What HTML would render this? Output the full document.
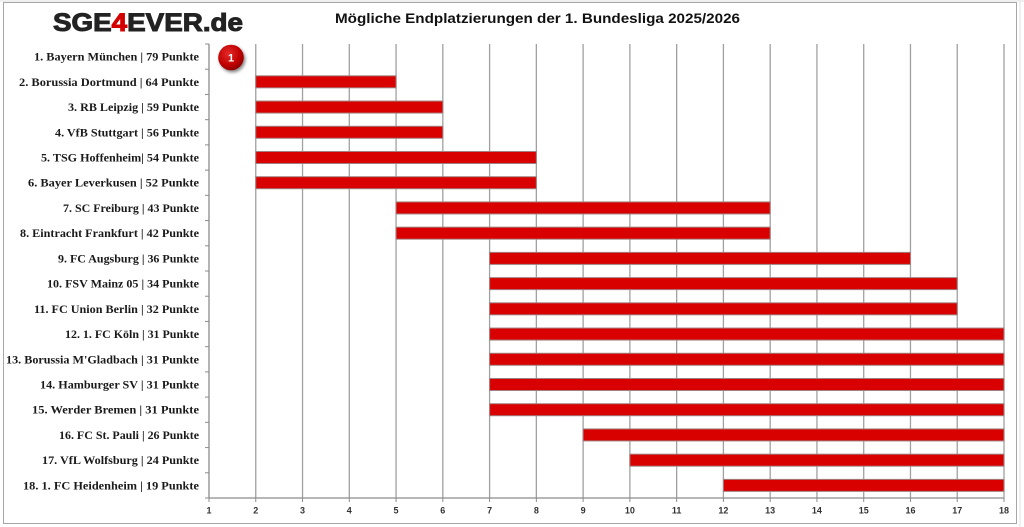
<!DOCTYPE html>
<html><head><meta charset="utf-8"><style>
html,body{margin:0;padding:0;background:#fff;width:1024px;height:527px;overflow:hidden}
svg{display:block}
.lb{font-family:"Liberation Serif",serif;font-weight:bold;font-size:11.5px;fill:#1a1a1a}
.tk{font-family:"Liberation Sans",sans-serif;font-weight:bold;font-size:9px;fill:#333}
</style></head><body>
<svg width="1024" height="527" viewBox="0 0 1024 527" xmlns="http://www.w3.org/2000/svg">
<defs>
<radialGradient id="cg" cx="40%" cy="35%" r="65%">
<stop offset="0" stop-color="#e52a2a"/><stop offset="0.7" stop-color="#c00000"/><stop offset="1" stop-color="#900000"/>
</radialGradient>
<filter id="sh" x="-50%" y="-50%" width="200%" height="200%"><feGaussianBlur in="SourceAlpha" stdDeviation="1.5"/><feOffset dx="1.5" dy="2" result="o"/><feComponentTransfer><feFuncA type="linear" slope="0.5"/></feComponentTransfer><feMerge><feMergeNode/><feMergeNode in="SourceGraphic"/></feMerge></filter>
</defs>
<g stroke="#e2e2e2" stroke-width="1">
<line x1="0" y1="1" x2="1024" y2="1"/>
<line x1="1020" y1="0" x2="1020" y2="527"/>
</g>
<rect x="3.5" y="2.5" width="1013" height="521" fill="#fff" stroke="#a6a6a6" stroke-width="1"/>
<text x="53" y="31" textLength="190" lengthAdjust="spacingAndGlyphs" font-family="Liberation Sans, sans-serif" font-weight="bold" font-size="25" fill="#222" stroke="#222" stroke-width="1"><tspan>SGE</tspan><tspan fill="#d40000" stroke="#d40000">4</tspan><tspan>EVER.de</tspan></text>
<text x="335" y="23" textLength="405" lengthAdjust="spacingAndGlyphs" font-family="Liberation Sans, sans-serif" font-weight="bold" font-size="14" fill="#111">Mögliche Endplatzierungen der 1. Bundesliga 2025/2026</text>
<g stroke="#a0a0a0" stroke-width="1.3">
<line x1="255.76" y1="44" x2="255.76" y2="498"/>
<line x1="302.53" y1="44" x2="302.53" y2="498"/>
<line x1="349.29" y1="44" x2="349.29" y2="498"/>
<line x1="396.06" y1="44" x2="396.06" y2="498"/>
<line x1="442.82" y1="44" x2="442.82" y2="498"/>
<line x1="489.59" y1="44" x2="489.59" y2="498"/>
<line x1="536.35" y1="44" x2="536.35" y2="498"/>
<line x1="583.12" y1="44" x2="583.12" y2="498"/>
<line x1="629.88" y1="44" x2="629.88" y2="498"/>
<line x1="676.65" y1="44" x2="676.65" y2="498"/>
<line x1="723.41" y1="44" x2="723.41" y2="498"/>
<line x1="770.18" y1="44" x2="770.18" y2="498"/>
<line x1="816.94" y1="44" x2="816.94" y2="498"/>
<line x1="863.71" y1="44" x2="863.71" y2="498"/>
<line x1="910.47" y1="44" x2="910.47" y2="498"/>
<line x1="957.24" y1="44" x2="957.24" y2="498"/>
<line x1="1004" y1="44" x2="1004" y2="498"/>
</g>
<g stroke="#8c8c8c" stroke-width="1.3">
<line x1="209" y1="44" x2="209" y2="498"/>
<line x1="209" y1="498" x2="1004" y2="498"/>
</g>
<g stroke="#8c8c8c" stroke-width="1">
<line x1="205" y1="44" x2="209" y2="44"/><line x1="205" y1="69.22" x2="209" y2="69.22"/><line x1="205" y1="94.44" x2="209" y2="94.44"/><line x1="205" y1="119.67" x2="209" y2="119.67"/><line x1="205" y1="144.89" x2="209" y2="144.89"/><line x1="205" y1="170.11" x2="209" y2="170.11"/><line x1="205" y1="195.33" x2="209" y2="195.33"/><line x1="205" y1="220.56" x2="209" y2="220.56"/><line x1="205" y1="245.78" x2="209" y2="245.78"/><line x1="205" y1="271" x2="209" y2="271"/><line x1="205" y1="296.22" x2="209" y2="296.22"/><line x1="205" y1="321.44" x2="209" y2="321.44"/><line x1="205" y1="346.67" x2="209" y2="346.67"/><line x1="205" y1="371.89" x2="209" y2="371.89"/><line x1="205" y1="397.11" x2="209" y2="397.11"/><line x1="205" y1="422.33" x2="209" y2="422.33"/><line x1="205" y1="447.56" x2="209" y2="447.56"/><line x1="205" y1="472.78" x2="209" y2="472.78"/><line x1="205" y1="498" x2="209" y2="498"/>
<line x1="209" y1="498" x2="209" y2="502"/><line x1="255.76" y1="498" x2="255.76" y2="502"/><line x1="302.53" y1="498" x2="302.53" y2="502"/><line x1="349.29" y1="498" x2="349.29" y2="502"/><line x1="396.06" y1="498" x2="396.06" y2="502"/><line x1="442.82" y1="498" x2="442.82" y2="502"/><line x1="489.59" y1="498" x2="489.59" y2="502"/><line x1="536.35" y1="498" x2="536.35" y2="502"/><line x1="583.12" y1="498" x2="583.12" y2="502"/><line x1="629.88" y1="498" x2="629.88" y2="502"/><line x1="676.65" y1="498" x2="676.65" y2="502"/><line x1="723.41" y1="498" x2="723.41" y2="502"/><line x1="770.18" y1="498" x2="770.18" y2="502"/><line x1="816.94" y1="498" x2="816.94" y2="502"/><line x1="863.71" y1="498" x2="863.71" y2="502"/><line x1="910.47" y1="498" x2="910.47" y2="502"/><line x1="957.24" y1="498" x2="957.24" y2="502"/><line x1="1004" y1="498" x2="1004" y2="502"/>
</g>
<g fill="#d90000" stroke="#a08080" stroke-width="1">
<rect x="255.76" y="75.83" width="140.3" height="12"/>
<rect x="255.76" y="101.06" width="187.06" height="12"/>
<rect x="255.76" y="126.28" width="187.06" height="12"/>
<rect x="255.76" y="151.5" width="280.59" height="12"/>
<rect x="255.76" y="176.72" width="280.59" height="12"/>
<rect x="396.06" y="201.94" width="374.12" height="12"/>
<rect x="396.06" y="227.17" width="374.12" height="12"/>
<rect x="489.59" y="252.39" width="420.88" height="12"/>
<rect x="489.59" y="277.61" width="467.65" height="12"/>
<rect x="489.59" y="302.83" width="467.65" height="12"/>
<rect x="489.59" y="328.06" width="514.41" height="12"/>
<rect x="489.59" y="353.28" width="514.41" height="12"/>
<rect x="489.59" y="378.5" width="514.41" height="12"/>
<rect x="489.59" y="403.72" width="514.41" height="12"/>
<rect x="583.12" y="428.94" width="420.88" height="12"/>
<rect x="629.88" y="454.17" width="374.12" height="12"/>
<rect x="723.41" y="479.39" width="280.59" height="12"/>
</g>
<g filter="url(#sh)"><circle cx="231" cy="57.5" r="12.8" fill="url(#cg)"/></g>
<text x="231" y="61.5" text-anchor="middle" font-family="Liberation Sans, sans-serif" font-weight="bold" font-size="11" fill="#fff">1</text>
<g class="lb">
<text x="34" y="60.6" textLength="165" lengthAdjust="spacingAndGlyphs">1. Bayern München | 79 Punkte</text>
<text x="19" y="85.8" textLength="180" lengthAdjust="spacingAndGlyphs">2. Borussia Dortmund | 64 Punkte</text>
<text x="68" y="111.1" textLength="131" lengthAdjust="spacingAndGlyphs">3. RB Leipzig | 59 Punkte</text>
<text x="55" y="136.3" textLength="144" lengthAdjust="spacingAndGlyphs">4. VfB Stuttgart | 56 Punkte</text>
<text x="41" y="161.5" textLength="158" lengthAdjust="spacingAndGlyphs">5. TSG Hoffenheim| 54 Punkte</text>
<text x="28" y="186.7" textLength="171" lengthAdjust="spacingAndGlyphs">6. Bayer Leverkusen | 52 Punkte</text>
<text x="63" y="211.9" textLength="136" lengthAdjust="spacingAndGlyphs">7. SC Freiburg | 43 Punkte</text>
<text x="20" y="237.2" textLength="179" lengthAdjust="spacingAndGlyphs">8. Eintracht Frankfurt | 42 Punkte</text>
<text x="58" y="262.4" textLength="141" lengthAdjust="spacingAndGlyphs">9. FC Augsburg | 36 Punkte</text>
<text x="47" y="287.6" textLength="152" lengthAdjust="spacingAndGlyphs">10. FSV Mainz 05 | 34 Punkte</text>
<text x="34" y="312.8" textLength="165" lengthAdjust="spacingAndGlyphs">11. FC Union Berlin | 32 Punkte</text>
<text x="65" y="338.1" textLength="134" lengthAdjust="spacingAndGlyphs">12. 1. FC Köln | 31 Punkte</text>
<text x="6" y="363.3" textLength="193" lengthAdjust="spacingAndGlyphs">13. Borussia M'Gladbach | 31 Punkte</text>
<text x="40" y="388.5" textLength="159" lengthAdjust="spacingAndGlyphs">14. Hamburger SV | 31 Punkte</text>
<text x="32" y="413.7" textLength="167" lengthAdjust="spacingAndGlyphs">15. Werder Bremen | 31 Punkte</text>
<text x="59" y="438.9" textLength="140" lengthAdjust="spacingAndGlyphs">16. FC St. Pauli | 26 Punkte</text>
<text x="42" y="464.2" textLength="157" lengthAdjust="spacingAndGlyphs">17. VfL Wolfsburg | 24 Punkte</text>
<text x="23" y="489.4" textLength="176" lengthAdjust="spacingAndGlyphs">18. 1. FC Heidenheim | 19  Punkte</text>
</g>
<g class="tk" text-anchor="middle">
<text x="209" y="513.5">1</text><text x="255.76" y="513.5">2</text><text x="302.53" y="513.5">3</text><text x="349.29" y="513.5">4</text><text x="396.06" y="513.5">5</text><text x="442.82" y="513.5">6</text><text x="489.59" y="513.5">7</text><text x="536.35" y="513.5">8</text><text x="583.12" y="513.5">9</text><text x="629.88" y="513.5">10</text><text x="676.65" y="513.5">11</text><text x="723.41" y="513.5">12</text><text x="770.18" y="513.5">13</text><text x="816.94" y="513.5">14</text><text x="863.71" y="513.5">15</text><text x="910.47" y="513.5">16</text><text x="957.24" y="513.5">17</text><text x="1004" y="513.5">18</text>
</g>
</svg>
</body></html>
